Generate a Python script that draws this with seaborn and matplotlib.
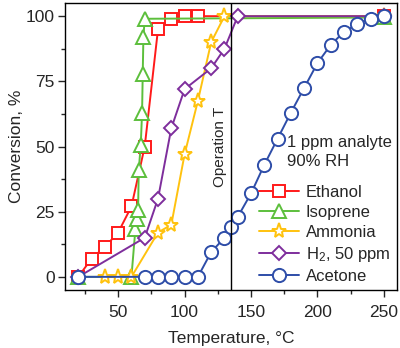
import matplotlib
matplotlib.use('Agg')
import matplotlib.pyplot as plt
import seaborn as sns
import pandas as pd
from matplotlib.lines import Line2D

#
# Data
#

ethanol_T = [20, 30, 40, 50, 60, 70, 80, 90, 100, 110, 250]
ethanol_c = [0, 7, 11.5, 17, 27, 50, 95, 99, 100, 100, 100]

isoprene_T = [20, 60, 63, 64, 65, 65.5, 67, 68, 68.5, 69, 70, 250]
isoprene_c = [0, 0, 18.5, 22, 25.5, 41, 50.5, 63, 78, 92, 99, 99.5]

ammonia_T = [40, 50, 60, 80, 90, 100, 110, 120, 130, 250]
ammonia_c = [0, 0, 0, 17, 20, 47, 67.5, 90, 100, 100]

h2_T = [20, 70, 80, 90, 100, 120, 130, 140, 250]
h2_c = [0, 15, 30, 57, 72, 80, 87.5, 100, 100]

acetone_T = [20, 70, 80, 90, 100, 110, 120, 130, 135, 140, 150, 160,
             170, 180, 190, 200, 210, 220, 230, 240, 250]
acetone_c = [0, 0, 0, 0, 0, 0, 9.5, 15, 19, 23, 32, 43,
             53, 63, 72.5, 82, 89, 94, 97, 99, 100]

labels = ['Ethanol', 'Isoprene', 'Ammonia', 'H$_2$, 50 ppm', 'Acetone']
colors = ['#FF1A1A', '#5CBF3C', '#FFC20E', '#7E2E9C', '#2E4DA8']
markers = ['s', '^', '*', 'D', 'o']
msizes = [8, 9.5, 11, 7.5, 9.5]

operation_T = 135

series = [(ethanol_T, ethanol_c), (isoprene_T, isoprene_c), (ammonia_T, ammonia_c),
          (h2_T, h2_c), (acetone_T, acetone_c)]

#
# Plot
#

sns.set_theme(style='ticks')
plt.rcParams['font.family'] = ['Liberation Sans', 'DejaVu Sans']
plt.rcParams['mathtext.default'] = 'regular'

fig, ax = plt.subplots(figsize=(4.0, 3.48), dpi=100)
fig.subplots_adjust(left=0.1625, right=0.993, top=0.991, bottom=0.167)

handles = []
for (T, c), lab, col, mk, ms in zip(series, labels, colors, markers, msizes):
    df = pd.DataFrame({'T': T, 'c': c})
    sns.lineplot(data=df, x='T', y='c', ax=ax, color=col, marker=mk, markersize=ms,
                 markerfacecolor='white', markeredgecolor=col, markeredgewidth=1.4,
                 linewidth=1.4, estimator=None, sort=False)
    handles.append(Line2D([], [], color=col, marker=mk, markersize=ms,
                          markerfacecolor='white', markeredgecolor=col,
                          markeredgewidth=1.4, linewidth=1.4))

ax.axvline(operation_T, color='black', linewidth=1.0)
ax.text(127, 50, 'Operation T', rotation=90, ha='center', va='center', fontsize=11)
ax.text(177, 48, '1 ppm analyte\n90% RH', ha='left', va='center', fontsize=12,
        linespacing=1.3)

ax.set_xlim(10, 260)
ax.set_ylim(-5, 105)
ax.set_xticks([50, 100, 150, 200, 250])
ax.set_xticks([25, 75, 125, 175, 225], minor=True)
ax.set_yticks([0, 25, 50, 75, 100])
ax.set_yticks([12.5, 37.5, 62.5, 87.5], minor=True)
ax.tick_params(which='major', direction='out', length=5, width=1, labelsize=12.5, pad=2.5)
ax.tick_params(axis='x', which='major', pad=6)
ax.tick_params(which='minor', direction='out', length=3, width=1)

ax.set_xlabel('Temperature, °C', fontsize=12.5, labelpad=8)
ax.set_ylabel('Conversion, %', fontsize=12.5, labelpad=1)
for s in ax.spines.values():
    s.set_linewidth(1.0)
    s.set_color('black')

ax.legend(handles, labels, loc='lower right', bbox_to_anchor=(1.01, -0.015), frameon=False,
          fontsize=12, handlelength=2.4, handletextpad=0.4, labelspacing=0.3,
          borderaxespad=0.2)

plt.savefig('out.png', dpi=100)
